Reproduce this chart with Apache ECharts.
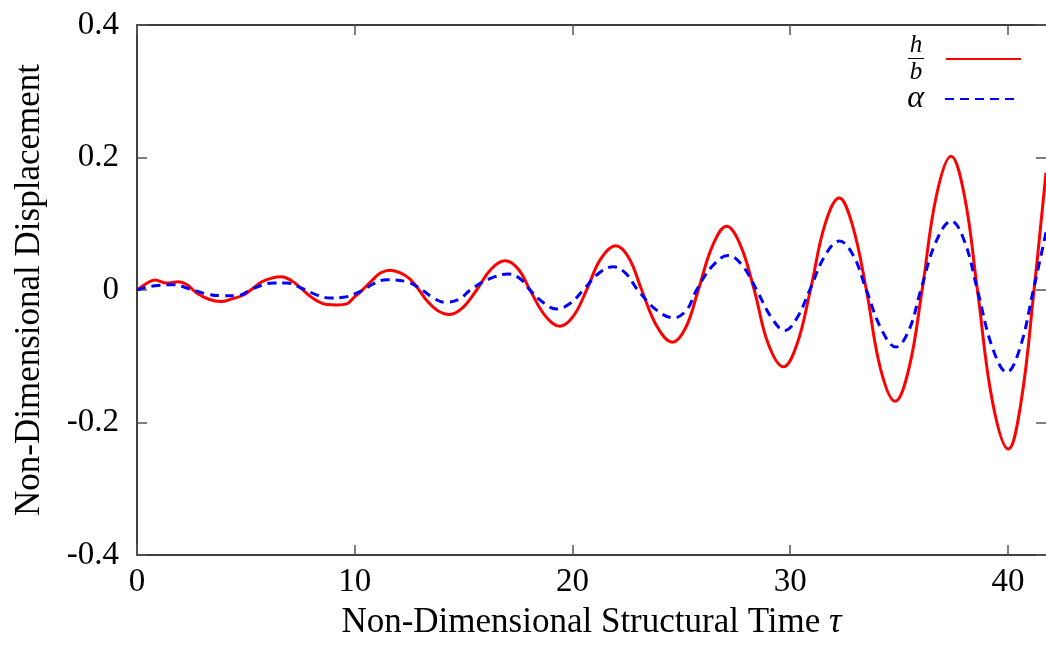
<!DOCTYPE html>
<html>
<head>
<meta charset="utf-8">
<script src="https://cdn.jsdelivr.net/npm/echarts@6/dist/echarts.min.js"></script>
<style>
  html, body { margin: 0; padding: 0; background: #fff; }
  #main { width: 1046px; height: 645px; }
</style>
</head>
<body>
<div id="main"></div>
<script>
// h/b
var hbTau = [0, 0.4, 0.83, 1.36, 1.9, 2.3, 2.74, 3.3, 3.84, 4.4, 4.89, 5.3, 5.73, 6.2, 6.64, 7.1, 7.49, 7.9, 8.25, 8.71, 9.2, 9.63, 10.0, 10.24, 10.86, 11.2, 11.62, 12.1, 12.54, 13.0, 13.31, 13.8, 14.35, 14.95, 15.6, 16.25, 16.9, 17.5, 18.05, 18.75, 19.43, 20.05, 20.65, 21.3, 21.99, 22.6, 23.18, 23.9, 24.59, 25.2, 25.78, 26.45, 27.08, 27.7, 28.35, 29.0, 29.69, 30.3, 30.93, 31.6, 32.25, 32.85, 33.5, 34.15, 34.82, 35.45, 36.06, 36.72, 37.39, 38.0, 38.6, 39.3, 40.02, 40.6, 41.2, 41.75];
var hbVal = [0, 0.009, 0.015, 0.0105, 0.0125, 0.008, -0.0045, -0.014, -0.0175, -0.013, -0.0075, 0.002, 0.0125, 0.018, 0.020, 0.014, 0.004, -0.008, -0.016, -0.022, -0.0225, -0.021, -0.010, -0.0035, 0.0165, 0.026, 0.030, 0.026, 0.0165, -0.002, -0.016, -0.031, -0.037, -0.027, 0, 0.031, 0.044, 0.032, 0, -0.039, -0.0546, -0.039, 0, 0.047, 0.0667, 0.048, 0, -0.056, -0.0787, -0.057, 0, 0.068, 0.0962, 0.069, 0, -0.082, -0.116, -0.083, 0, 0.099, 0.139, 0.099, 0, -0.119, -0.168, -0.119, 0, 0.143, 0.202, 0.143, 0, -0.17, -0.240, -0.17, 0, 0.177];

// alpha
var alTau = [0, 0.4, 0.83, 1.67, 2.43, 3.2, 3.9, 4.6, 5.35, 6.26, 6.88, 7.64, 8.3, 8.87, 9.48, 10.24, 10.9, 11.47, 12.39, 13.15, 13.6, 14.15, 14.8, 15.3, 16.2, 17.05, 17.6, 18.05, 18.7, 19.27, 19.9, 20.5, 21.2, 21.88, 22.45, 23.0, 23.85, 24.65, 25.25, 25.7, 26.45, 27.15, 27.8, 28.46, 29.15, 29.75, 30.3, 30.9, 31.6, 32.26, 32.9, 33.5, 34.2, 34.85, 35.45, 36.0, 36.7, 37.4, 38.0, 38.6, 39.3, 39.95, 40.55, 41.17, 41.75];
var alVal = [0, 0.004, 0.0065, 0.008, 0.0015, -0.006, -0.0085, -0.0085, 0.0025, 0.0105, 0.0105, 0.0015, -0.008, -0.012, -0.011, -0.0025, 0.01, 0.0155, 0.0125, -0.001, -0.012, -0.0185, -0.014, 0, 0.017, 0.024, 0.017, 0, -0.02, -0.0286, -0.02, 0, 0.025, 0.035, 0.025, 0, -0.03, -0.042, -0.03, 0, 0.037, 0.052, 0.037, 0, -0.042, -0.061, -0.043, 0, 0.052, 0.074, 0.052, 0, -0.06, -0.086, -0.061, 0, 0.073, 0.104, 0.074, 0, -0.088, -0.124, -0.088, 0, 0.087];

var xTicks = [0, 10, 20, 30, 40];
var yTicks = [-0.4, -0.2, 0, 0.2, 0.4];

function pairs(xs, ys) {
  return xs.map(function (x, i) { return [x, ys[i]]; });
}

var serif = 'Liberation Serif';
function ticks(vals) {
  return { show: true, inside: true, length: 10, customValues: vals, lineStyle: { color: '#555', width: 1.5 } };
}
var chart = echarts.init(document.getElementById('main'), null, { renderer: 'canvas' });

chart.setOption({
  animation: false,
  backgroundColor: '#fff',
  grid: { left: 137, right: 0, top: 25, bottom: 88 },
  legend: [
    {
      data: ['hb'],
      right: 19, top: 28,
      align: 'right',
      itemWidth: 75, itemHeight: 14,
      itemStyle: { opacity: 0 },
      formatter: function () { return '{n|h}\n{bar|}\n{d|b}'; },
      textStyle: {
        padding: [0, 17, 0, 0],
        rich: {
          n: { fontFamily: serif, fontStyle: 'italic', fontSize: 25, lineHeight: 21, align: 'center', width: 16, color: '#000' },
          bar: { width: 16, height: 1, backgroundColor: '#000', lineHeight: 5 },
          d: { fontFamily: serif, fontStyle: 'italic', fontSize: 25, lineHeight: 22, align: 'center', width: 16, color: '#000' }
        }
      }
    },
    {
      data: ['α'],
      right: 25, top: 78,
      align: 'right',
      itemWidth: 70, itemHeight: 14,
      itemStyle: { opacity: 0 },
      textStyle: { fontFamily: serif, fontStyle: 'italic', fontSize: 32, color: '#000', padding: [0, 16, 0, 0] }
    }
  ],
  xAxis: [
    {
      type: 'value', min: 0, max: 41.75, interval: 10,
      name: 'Non-Dimensional Structural Time {t|τ}',
      nameLocation: 'middle', nameGap: 50,
      nameTextStyle: { fontFamily: serif, fontSize: 35, color: '#000',
        rich: { t: { fontFamily: serif, fontStyle: 'italic', fontSize: 35, color: '#000' } } },
      axisLine: { show: true, onZero: false, lineStyle: { color: '#000', width: 1.5 } },
      axisTick: ticks(xTicks),
      axisLabel: { fontFamily: serif, fontSize: 33, color: '#000', margin: 11, customValues: xTicks },
      splitLine: { show: false }
    },
    {
      type: 'value', min: 0, max: 41.75, interval: 10, position: 'top',
      axisLine: { show: true, onZero: false, lineStyle: { color: '#000', width: 1.5 } },
      axisTick: ticks(xTicks),
      axisLabel: { show: false },
      splitLine: { show: false }
    }
  ],
  yAxis: [
    {
      type: 'value', min: -0.4, max: 0.4, interval: 0.2,
      name: 'Non-Dimensional Displacement',
      nameLocation: 'middle', nameGap: 90, nameRotate: 90,
      nameTextStyle: { fontFamily: serif, fontSize: 35, color: '#000' },
      axisLine: { show: true, onZero: false, lineStyle: { color: '#000', width: 1.5 } },
      axisTick: ticks(yTicks),
      axisLabel: { fontFamily: serif, fontSize: 33, color: '#000', margin: 18, customValues: yTicks,
        formatter: function (v) {
          var r = Math.round(v * 10) / 10;
          return r === 0 ? '0' : r.toFixed(1);
        } },
      splitLine: { show: false }
    },
    {
      type: 'value', min: -0.4, max: 0.4, interval: 0.2, position: 'right',
      axisLine: { show: false, onZero: false },
      axisTick: ticks(yTicks),
      axisLabel: { show: false },
      splitLine: { show: false }
    }
  ],
  series: [
    {
      name: 'hb', type: 'line', smooth: 0.4, showSymbol: false, symbol: 'none',
      data: pairs(hbTau, hbVal),
      lineStyle: { color: '#ff0000', width: 3 },
      itemStyle: { color: '#ff0000' },
      z: 2
    },
    {
      name: 'α', type: 'line', smooth: 0.4, showSymbol: false, symbol: 'none',
      data: pairs(alTau, alVal),
      lineStyle: { color: '#0000ff', width: 3, type: [9, 6] },
      itemStyle: { color: '#0000ff' },
      z: 3
    }
  ]
});
</script>
</body>
</html>
